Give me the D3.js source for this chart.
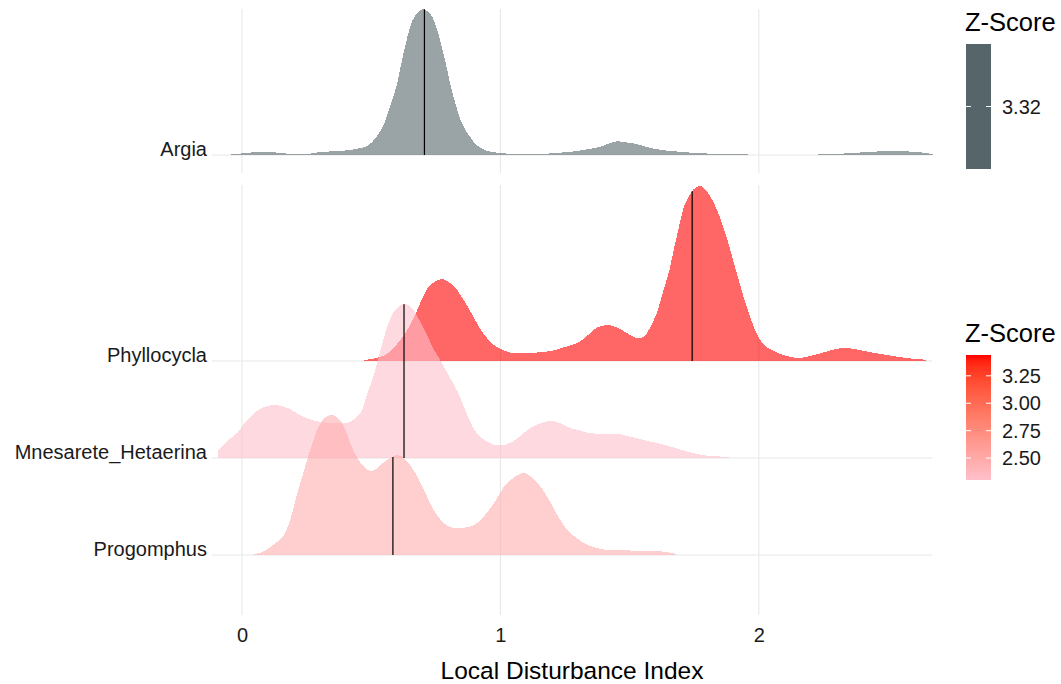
<!DOCTYPE html>
<html>
<head>
<meta charset="utf-8">
<script src="https://cdn.jsdelivr.net/npm/d3@7"></script>
<style>
  html, body { margin: 0; padding: 0; background: #ffffff; }
  svg { display: block; font-family: "Liberation Sans", Arial, sans-serif; }
</style>
</head>
<body>
<svg id="chart" width="1061" height="684"></svg>
<script>
// ---- data -------------------------------------------------------------
// density curves: [Local Disturbance Index, relative density]
const argiaDensity = [
  [-0.043,0.01],[0.021,0.02],[0.05,0.03],[0.076,0.033],[0.11,0.03],[0.149,0.02],[0.19,0.01],[0.232,0.005],
  [0.26,0.012],[0.278,0.02],[0.31,0.03],[0.351,0.037],[0.39,0.043],[0.425,0.053],[0.45,0.065],[0.471,0.077],
  [0.49,0.10],[0.507,0.14],[0.525,0.20],[0.544,0.277],[0.558,0.37],[0.572,0.477],[0.586,0.59],[0.6,0.71],
  [0.613,0.87],[0.627,1.04],[0.64,1.18],[0.654,1.31],[0.667,1.38],[0.68,1.427],[0.692,1.45],[0.704,1.46],
  [0.72,1.43],[0.737,1.377],[0.75,1.29],[0.764,1.177],[0.778,1.03],[0.792,0.877],[0.805,0.72],[0.819,0.577],
  [0.833,0.45],[0.847,0.343],[0.865,0.25],[0.884,0.177],[0.9,0.12],[0.92,0.077],[0.945,0.045],[0.975,0.027],
  [1.02,0.015],[1.07,0.01],[1.122,0.007],[1.17,0.012],[1.214,0.02],[1.26,0.03],[1.305,0.043],[1.34,0.06],
  [1.379,0.077],[1.415,0.11],[1.453,0.137],[1.49,0.125],[1.526,0.11],[1.56,0.085],[1.6,0.06],[1.64,0.045],
  [1.673,0.037],[1.73,0.025],[1.783,0.017],[1.84,0.01],[1.89,0.007],[2.0,0.004],[2.076,0.003],[2.17,0.003],
  [2.26,0.007],[2.33,0.015],[2.406,0.027],[2.48,0.037],[2.553,0.037],[2.61,0.03],[2.645,0.02],[2.673,0.01]
];

const phyllocyclaDensity = [
  [0.471,0.01],[0.5,0.02],[0.534,0.04],[0.572,0.09],[0.6,0.17],[0.627,0.26],[0.65,0.36],[0.673,0.48],
  [0.695,0.61],[0.718,0.73],[0.745,0.79],[0.774,0.82],[0.8,0.79],[0.828,0.73],[0.845,0.66],[0.865,0.58],
  [0.885,0.49],[0.902,0.41],[0.925,0.31],[0.948,0.23],[0.97,0.17],[0.994,0.13],[1.02,0.10],[1.049,0.08],
  [1.085,0.075],[1.122,0.08],[1.16,0.09],[1.196,0.10],[1.225,0.12],[1.25,0.14],[1.28,0.165],[1.305,0.19],
  [1.335,0.25],[1.36,0.31],[1.39,0.35],[1.418,0.36],[1.445,0.34],[1.47,0.31],[1.495,0.27],[1.516,0.24],
  [1.535,0.23],[1.553,0.24],[1.572,0.30],[1.59,0.39],[1.605,0.48],[1.617,0.58],[1.635,0.74],[1.654,0.91],
  [1.668,1.08],[1.682,1.24],[1.696,1.40],[1.71,1.54],[1.728,1.64],[1.745,1.71],[1.76,1.74],[1.774,1.75],
  [1.787,1.73],[1.80,1.69],[1.82,1.61],[1.838,1.51],[1.857,1.38],[1.875,1.24],[1.893,1.08],[1.911,0.91],
  [1.93,0.74],[1.948,0.58],[1.967,0.44],[1.985,0.31],[2.0,0.23],[2.021,0.16],[2.05,0.11],[2.076,0.077],
  [2.11,0.05],[2.15,0.03],[2.19,0.045],[2.223,0.067],[2.25,0.085],[2.278,0.107],[2.31,0.125],[2.337,0.13],
  [2.37,0.12],[2.407,0.10],[2.44,0.083],[2.48,0.067],[2.52,0.05],[2.57,0.03],[2.61,0.02],[2.645,0.013]
];

const mnesareteDensity = [
  [-0.093,0.08],[-0.07,0.13],[-0.052,0.18],[-0.015,0.26],[0.01,0.35],[0.04,0.43],[0.076,0.50],[0.1,0.52],
  [0.128,0.53],[0.15,0.52],[0.177,0.50],[0.205,0.46],[0.232,0.42],[0.26,0.39],[0.287,0.37],[0.32,0.355],
  [0.351,0.35],[0.38,0.35],[0.405,0.35],[0.43,0.38],[0.452,0.43],[0.468,0.50],[0.48,0.61],[0.5,0.75],
  [0.516,0.88],[0.53,1.02],[0.544,1.15],[0.558,1.28],[0.572,1.38],[0.587,1.46],[0.6,1.50],[0.615,1.53],
  [0.631,1.54],[0.648,1.52],[0.664,1.48],[0.682,1.40],[0.70,1.31],[0.72,1.21],[0.737,1.11],[0.76,1.01],
  [0.782,0.91],[0.81,0.78],[0.837,0.65],[0.865,0.47],[0.893,0.31],[0.915,0.23],[0.939,0.18],[0.96,0.15],
  [0.975,0.13],[1.0,0.13],[1.012,0.13],[1.035,0.15],[1.058,0.18],[1.09,0.25],[1.122,0.31],[1.16,0.35],
  [1.196,0.37],[1.23,0.35],[1.26,0.31],[1.3,0.28],[1.342,0.25],[1.4,0.24],[1.453,0.24],[1.49,0.22],
  [1.526,0.20],[1.58,0.165],[1.636,0.13],[1.69,0.09],[1.745,0.05],[1.78,0.03],[1.82,0.02],[1.885,0.01]
];

const progomphusDensity = [
  [0.048,0.01],[0.08,0.03],[0.11,0.08],[0.14,0.14],[0.167,0.22],[0.19,0.38],[0.21,0.58],[0.235,0.80],
  [0.26,1.02],[0.296,1.28],[0.325,1.38],[0.348,1.40],[0.367,1.38],[0.387,1.32],[0.405,1.22],[0.425,1.08],
  [0.445,0.98],[0.46,0.92],[0.48,0.86],[0.498,0.84],[0.52,0.86],[0.545,0.92],[0.575,0.97],[0.6,1.00],
  [0.627,0.97],[0.65,0.90],[0.68,0.78],[0.71,0.62],[0.735,0.48],[0.76,0.38],[0.79,0.30],[0.82,0.27],
  [0.846,0.27],[0.875,0.28],[0.9,0.30],[0.93,0.37],[0.956,0.45],[0.985,0.56],[1.013,0.68],[1.05,0.77],
  [1.075,0.81],[1.095,0.82],[1.115,0.79],[1.14,0.73],[1.17,0.63],[1.195,0.52],[1.22,0.40],[1.25,0.28],
  [1.28,0.20],[1.305,0.15],[1.33,0.11],[1.36,0.08],[1.39,0.06],[1.416,0.05],[1.5,0.045],[1.6,0.04],
  [1.64,0.03],[1.68,0.01]
];

// lower panel: genera from bottom row to top row
const lowerGenera = ["Progomphus", "Mnesarete_Hetaerina", "Phyllocycla"];
const lowerZScores = [2.47, 2.30, 3.44];
const lowerMedians = [0.584, 0.627, 1.742];

// upper panel
const upperGenera = ["Argia"];
const upperZScores = [3.32];
const upperMedians = [0.706];

const xTickValues = [0, 1, 2];
const lowerLegendTicks = [2.50, 2.75, 3.00, 3.25];
const upperLegendTicks = [3.32];

const xTitle = "Local Disturbance Index";
const legendTitle = "Z-Score";

// ---- layout ------------------------------------------------------------
const svg = d3.select("#chart");
const FONT_AXIS = 20, FONT_TITLE = 24.5, FONT_LEGEND_TITLE = 25.5;
const TEXT = "#1a1a1a", GRID = "#e8e8e8";
const FILL_ALPHA = 0.6;

const x = d3.scaleLinear().domain([-0.116, 2.67]).range([212, 932]);

const upperPanel = { top: 9, bottom: 173 };
const lowerPanel = { top: 185, bottom: 615 };

const yUpper = d3.scalePoint().domain(upperGenera).range([155, 155]);
const yLower = d3.scalePoint().domain(lowerGenera).range([555, 361]);

const upperCurves = [argiaDensity];
const lowerCurves = [progomphusDensity, mnesareteDensity, phyllocyclaDensity];

const hUpper = d3.scaleLinear()
  .domain([0, d3.max(argiaDensity, d => d[1])]).range([0, 146]);
const hLower = d3.scaleLinear()
  .domain([0, d3.max(lowerCurves.flat(), d => d[1])]).range([0, 175]);

// colour scales
const upperColour = () => "#56656a";
const lowerColour = d3.scaleLinear()
  .domain(d3.extent(lowerZScores))
  .range(["pink", "red"])
  .interpolate(d3.interpolateLab);

// density value at an arbitrary x (linear between the stored points)
function densityAt(curve, v) {
  const i = d3.bisector(d => d[0]).left(curve, v);
  if (i <= 0) return curve[0][1];
  if (i >= curve.length) return curve[curve.length - 1][1];
  const a = curve[i - 1], b = curve[i];
  const t = (v - a[0]) / (b[0] - a[0]);
  return a[1] + t * (b[1] - a[1]);
}

// ---- grid ---------------------------------------------------------------
const grid = svg.append("g");
[upperPanel, lowerPanel].forEach(p => {
  grid.selectAll(null).data(xTickValues).join("line")
    .attr("x1", d => x(d)).attr("x2", d => x(d))
    .attr("y1", p.top).attr("y2", p.bottom)
    .attr("stroke", GRID).attr("stroke-width", 1.1);
});
grid.selectAll(null).data(upperGenera).join("line")
  .attr("x1", x.range()[0]).attr("x2", x.range()[1])
  .attr("y1", d => yUpper(d)).attr("y2", d => yUpper(d))
  .attr("stroke", GRID).attr("stroke-width", 1.1);
grid.selectAll(null).data(lowerGenera).join("line")
  .attr("x1", x.range()[0]).attr("x2", x.range()[1])
  .attr("y1", d => yLower(d)).attr("y2", d => yLower(d))
  .attr("stroke", GRID).attr("stroke-width", 1.1);

// ---- ridges --------------------------------------------------------------
function drawRidges(genera, curves, zScores, medians, yScale, hScale, colour) {
  const g = svg.append("g");
  // top row first so lower ridges are layered over it
  const order = d3.range(genera.length).reverse();
  order.forEach(i => {
    const base = yScale(genera[i]);
    const area = d3.area()
      .x(d => x(d[0]))
      .y0(base)
      .y1(d => base - hScale(d[1]))
      .curve(d3.curveMonotoneX);
    g.append("path")
      .datum(curves[i])
      .attr("d", area)
      .attr("fill", colour(zScores[i]))
      .attr("fill-opacity", FILL_ALPHA)
      .attr("shape-rendering", "crispEdges");
    const m = medians[i];
    g.append("line")
      .attr("x1", x(m)).attr("x2", x(m))
      .attr("y1", base)
      .attr("y2", base - hScale(densityAt(curves[i], m)))
      .attr("stroke", "#000").attr("stroke-width", 1.2);
  });
}

drawRidges(upperGenera, upperCurves, upperZScores, upperMedians, yUpper, hUpper, upperColour);
drawRidges(lowerGenera, lowerCurves, lowerZScores, lowerMedians, yLower, hLower, lowerColour);

// ---- axes ----------------------------------------------------------------
const labels = svg.append("g")
  .attr("font-size", FONT_AXIS).attr("fill", TEXT).attr("text-anchor", "end");
labels.selectAll(null).data(upperGenera).join("text")
  .attr("x", 207).attr("y", d => yUpper(d) + 1).text(d => d);
labels.selectAll(null).data(lowerGenera).join("text")
  .attr("x", 207).attr("y", d => yLower(d) + 1).text(d => d);

const xAxis = svg.append("g")
  .attr("transform", `translate(0,${lowerPanel.bottom})`)
  .call(d3.axisBottom(x).tickValues(xTickValues).tickFormat(d3.format("d")).tickSize(0).tickPadding(0));
xAxis.select(".domain").remove();
xAxis.selectAll("text")
  .attr("font-size", FONT_AXIS).attr("fill", TEXT)
  .attr("font-family", "Liberation Sans, Arial, sans-serif")
  .attr("dy", null).attr("y", 27);

svg.append("text")
  .attr("x", (x(x.domain()[0]) + x(x.domain()[1])) / 2)
  .attr("y", 679)
  .attr("text-anchor", "middle")
  .attr("font-size", FONT_TITLE).attr("fill", "#000")
  .text(xTitle);

// ---- legends -------------------------------------------------------------
const defs = svg.append("defs");

function colourBar(id, top, bottom, domain, colour, ticks, titleY) {
  const bar = { x: 966, w: 25, top, bottom };
  const y = d3.scaleLinear().domain(domain).range([bottom, top]);
  const grad = defs.append("linearGradient")
    .attr("id", id).attr("x1", 0).attr("x2", 0).attr("y1", 1).attr("y2", 0);
  d3.range(0, 1.0001, 0.05).forEach(t => {
    grad.append("stop")
      .attr("offset", t)
      .attr("stop-color", colour(domain[0] + t * (domain[1] - domain[0])));
  });
  const g = svg.append("g");
  g.append("text")
    .attr("x", 965).attr("y", titleY)
    .attr("font-size", FONT_LEGEND_TITLE).attr("fill", "#000")
    .text(legendTitle);
  g.append("rect")
    .attr("x", bar.x).attr("y", bar.top)
    .attr("width", bar.w).attr("height", bar.bottom - bar.top)
    .attr("fill", `url(#${id})`);
  ticks.forEach(v => {
    const ty = y(v);
    g.append("line").attr("x1", bar.x).attr("x2", bar.x + 5)
      .attr("y1", ty).attr("y2", ty).attr("stroke", "#fff").attr("stroke-width", 1);
    g.append("line").attr("x1", bar.x + bar.w - 5).attr("x2", bar.x + bar.w)
      .attr("y1", ty).attr("y2", ty).attr("stroke", "#fff").attr("stroke-width", 1);
    g.append("text")
      .attr("x", 1002).attr("y", ty + 7)
      .attr("font-size", FONT_AXIS).attr("fill", TEXT)
      .text(d3.format(".2f")(v));
  });
}

// single-value scale: bar centred on its one value
colourBar("zUpper", 44, 169,
  [upperZScores[0] - 0.1, upperZScores[0] + 0.1], upperColour, upperLegendTicks, 31);
colourBar("zLower", 355, 480,
  d3.extent(lowerZScores), lowerColour, lowerLegendTicks, 342);
</script>
</body>
</html>
